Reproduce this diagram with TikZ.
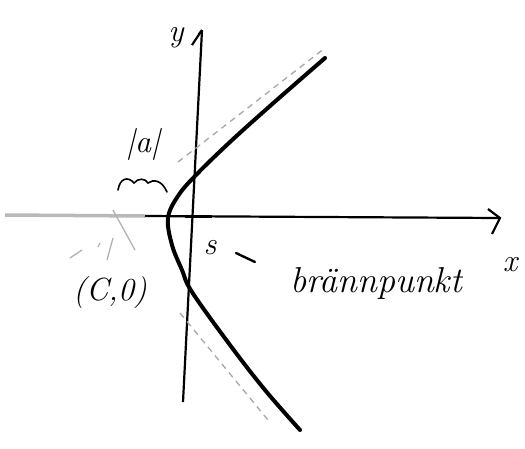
\documentclass[tikz,border=0pt]{standalone}
\usepackage{fontspec}
\usetikzlibrary{arrows.meta}
\begin{document}
\begin{tikzpicture}[x=1pt,y=-1pt,
  axis/.style={line width=2.2pt,black},
  curve/.style={line width=4pt,black,line cap=round},
  asym/.style={line width=1.3pt,gray!70,dash pattern=on 6pt off 5pt},
  faint/.style={line width=1.3pt,gray!60},
  hand/.style={font=\fontsize{32}{34}\selectfont\itshape,inner sep=0pt}]
\useasboundingbox (0,0) rectangle (525,448);
% axes
\coordinate (xl) at (5,215);
\coordinate (xm) at (145,216);
\coordinate (xr) at (500,218);
\coordinate (yb) at (183,402);
\coordinate (yt) at (202,30);
\draw[line width=3.5pt,gray!55] (xl) -- (xm);
\draw[axis] (xm) -- (xr);
\draw[axis] (488,209) -- (xr) -- (492,234);
\draw[axis] (yb) -- (yt);
\draw[axis] (192,45) -- (yt) -- (199,34);
\draw[line width=3pt] (185,216) -- (212,216);
% asymptotes
\draw[asym] (178,162) -- (325,48);
\draw[asym] (180,313) -- (268,420);
\draw[faint] (113,210) -- (135,250);
\draw[faint] (113,238) -- (107,260);
\draw[faint] (82,250) -- (70,258);
\draw[faint] (100,243) -- (98,247);
% hyperbola
\draw[curve] plot[smooth,tension=0.6] coordinates {(325,58) (270,106) (230,142) (196,175) (178,196) (168,218) (172,245) (182,270) (192,292) (230,345) (265,390) (300,430)};
% brace under |a|
\draw[line width=1.6pt,line cap=round] (118,190) .. controls (120,178) and (128,176) .. (134,183) .. controls (138,178) and (145,178) .. (148,183) .. controls (153,179) and (162,180) .. (167,192);
% labels
\node[hand] (ylab) at (176,38) {y};
\node[hand] (xlab) at (510,265) {x};
\node[hand] (alab) at (143,144) {|a|};
\node[hand] (slab) at (210,248) {s};
\draw[line width=2.4pt,line cap=round] (236,253) -- (255,262);
\node[hand,font=\fontsize{36}{38}\selectfont\itshape] (blab) at (376,283) {brännpunkt};
\node[hand] (clab) at (110,293) {(C,0)};
\end{tikzpicture}
\end{document}
